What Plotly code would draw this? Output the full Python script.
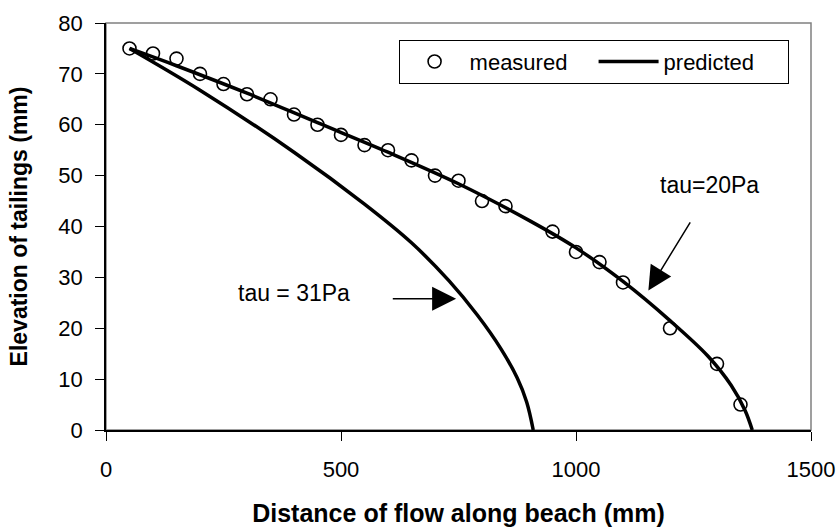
import plotly.graph_objects as go

# measured points
meas_x = [50, 100, 150, 200, 250, 300, 350, 400, 450, 500, 550, 600, 650,
          700, 750, 800, 850, 950, 1000, 1050, 1100, 1200, 1300, 1350]
meas_y = [75, 74, 73, 70, 68, 66, 65, 62, 60, 58, 56, 55, 53,
          50, 49, 45, 44, 39, 35, 33, 29, 20, 13, 5]

# predicted, tau = 20 Pa
p20_x = [50, 150, 300, 450, 600, 750, 900, 1000, 1100, 1200, 1280, 1330, 1360, 1375]
p20_y = [75, 71.6, 66.2, 60.4, 54.6, 48.4, 41.2, 35.8, 29.2, 21.5, 14.6, 8.8, 3.8, 0]

# predicted, tau = 31 Pa
p31_x = [50, 200, 400, 550, 650, 730, 790, 840, 875, 895, 909]
p31_y = [75, 66.8, 54.6, 44.4, 36.8, 29.3, 22.6, 16.0, 10.2, 5.5, 0]

x_ticks = [0, 500, 1000, 1500]
y_ticks = [0, 10, 20, 30, 40, 50, 60, 70, 80]

FONT = "Arial, Liberation Sans, sans-serif"

fig = go.Figure()
fig.add_trace(go.Scatter(
    x=meas_x, y=meas_y, mode="markers", name="measured",
    marker=dict(symbol="circle", size=13, color="white",
                line=dict(color="black", width=1.6)),
))
fig.add_trace(go.Scatter(
    x=p20_x, y=p20_y, mode="lines", name="predicted",
    line=dict(color="black", width=3.5, shape="spline", smoothing=1.0),
))
fig.add_trace(go.Scatter(
    x=p31_x, y=p31_y, mode="lines", name="predicted", showlegend=False,
    line=dict(color="black", width=3.5, shape="spline", smoothing=1.0),
))

# arrows
fig.add_annotation(x=745, y=25.8, ax=607, ay=25.8, xref="x", yref="y",
                   axref="x", ayref="y", text="", showarrow=True,
                   arrowhead=2, arrowsize=3.2, arrowwidth=1.5, arrowcolor="black")
fig.add_annotation(x=1154, y=27.4, ax=1245, ay=41.1, xref="x", yref="y",
                   axref="x", ayref="y", text="", showarrow=True,
                   arrowhead=2, arrowsize=3.2, arrowwidth=1.5, arrowcolor="black")
fig.add_annotation(x=400, y=26.9, text="tau = 31Pa", showarrow=False,
                   xref="x", yref="y", font=dict(size=23, color="black", family=FONT))
fig.add_annotation(x=1285, y=48.2, text="tau=20Pa", showarrow=False,
                   xref="x", yref="y", font=dict(size=23, color="black", family=FONT))

# gray frame (top/right)
fig.add_shape(type="rect", xref="paper", yref="paper", x0=0, y0=0, x1=1, y1=1,
              line=dict(color="#808080", width=1.5), layer="below")

fig.update_layout(
    width=840, height=527,
    margin=dict(l=106, r=29, t=23, b=97, autoexpand=False),
    paper_bgcolor="white", plot_bgcolor="white",
    font=dict(family=FONT, color="black", size=20),
    showlegend=True,
    legend=dict(orientation="h", x=0.415, y=0.959, xanchor="left", yanchor="top",
                bgcolor="white", bordercolor="black", borderwidth=1,
                font=dict(size=22, family=FONT), itemwidth=60,
                entrywidth=119, entrywidthmode="pixels",
                tracegroupgap=0),
    xaxis=dict(range=[0, 1500], tickvals=x_ticks, showgrid=False, zeroline=False,
               showline=True, linecolor="black", linewidth=1.5,
               ticks="outside", ticklen=9, tickwidth=1, tickcolor="black",
               ticklabelstandoff=10,
               tickfont=dict(size=22, family=FONT),
               title=dict(text="<b>Distance of flow along beach (mm)</b>",
                          font=dict(size=25, family=FONT), standoff=39)),
    yaxis=dict(range=[0, 80], tickvals=y_ticks, showgrid=False, zeroline=False,
               showline=True, linecolor="black", linewidth=1.5,
               ticks="outside", ticklen=9, tickwidth=1, tickcolor="black",
               ticklabelstandoff=8,
               tickfont=dict(size=22, family=FONT),
               title=dict(text="<b>Elevation of tailings (mm)</b>",
                          font=dict(size=23, family=FONT), standoff=24)),
)

fig.write_html("out.html")
